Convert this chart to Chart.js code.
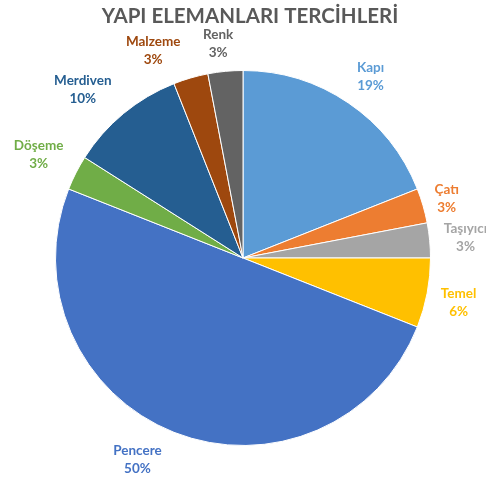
<!DOCTYPE html>
<html>
<head>
<meta charset="utf-8">
<script src="https://cdn.jsdelivr.net/npm/chart.js@4"></script>
<style>
  html, body { margin: 0; padding: 0; background: #fff; }
  #wrap { width: 486px; height: 483px; }
</style>
</head>
<body>
<div id="wrap"><canvas id="pasta" width="486" height="483"></canvas></div>
<script>
const titulo = 'YAPI ELEMANLARI TERCİHLERİ';
const etiketler = ['Kapı', 'Çatı', 'Taşıyıcı', 'Temel', 'Pencere', 'Döşeme', 'Merdiven', 'Malzeme', 'Renk'];
const yuzdeler = [19, 3, 3, 6, 50, 3, 10, 3, 3];
const renkler = ['#5B9BD5', '#ED7D31', '#A5A5A5', '#FFC000', '#4472C4', '#70AD47', '#255E91', '#9E480E', '#636363'];

// etiketlerin dilim ortasindan kaydirilmasi (piksel)
const kaydir = [[3, 1.5], [-9, 2], [2, 0], [-2, 3.5], [-24, -4.5], [-7, -2.5], [-19, 2], [-28, 5.5], [-4, 6.5]];

// baslik ve dilim etiketleri
const etiketEklentisi = {
  id: 'etiketler',
  afterDraw(chart) {
    const ctx = chart.ctx;
    ctx.save();
    ctx.fillStyle = '#595959';
    ctx.font = 'bold 20.5px Lato, "Open Sans", sans-serif';
    ctx.textAlign = 'center';
    ctx.textBaseline = 'middle';
    ctx.fillText(titulo, 250, 16);

    const meta = chart.getDatasetMeta(0);
    ctx.font = 'bold 13.5px Lato, "Open Sans", sans-serif';
    meta.data.forEach((arc, i) => {
      const p = arc.getProps(['x', 'y', 'startAngle', 'endAngle', 'outerRadius']);
      const a = (p.startAngle + p.endAngle) / 2;
      const d = p.outerRadius + 34;
      const x = p.x + Math.cos(a) * d + kaydir[i][0];
      const y = p.y + Math.sin(a) * d + kaydir[i][1];
      ctx.fillStyle = renkler[i];
      ctx.fillText(etiketler[i], x, y - 9);
      ctx.fillText(yuzdeler[i] + '%', x, y + 9);
    });
    ctx.restore();
  }
};

new Chart(document.getElementById('pasta'), {
  type: 'pie',
  data: {
    labels: etiketler,
    datasets: [{
      data: yuzdeler,
      backgroundColor: renkler,
      borderColor: '#ffffff',
      borderWidth: 1
    }]
  },
  options: {
    animation: false,
    responsive: false,
    layout: {
      padding: { left: 55, right: 55, top: 70, bottom: 37 }
    },
    plugins: {
      legend: { display: false },
      title: { display: false },
      tooltip: { enabled: false }
    }
  },
  plugins: [etiketEklentisi]
});
</script>
</body>
</html>
